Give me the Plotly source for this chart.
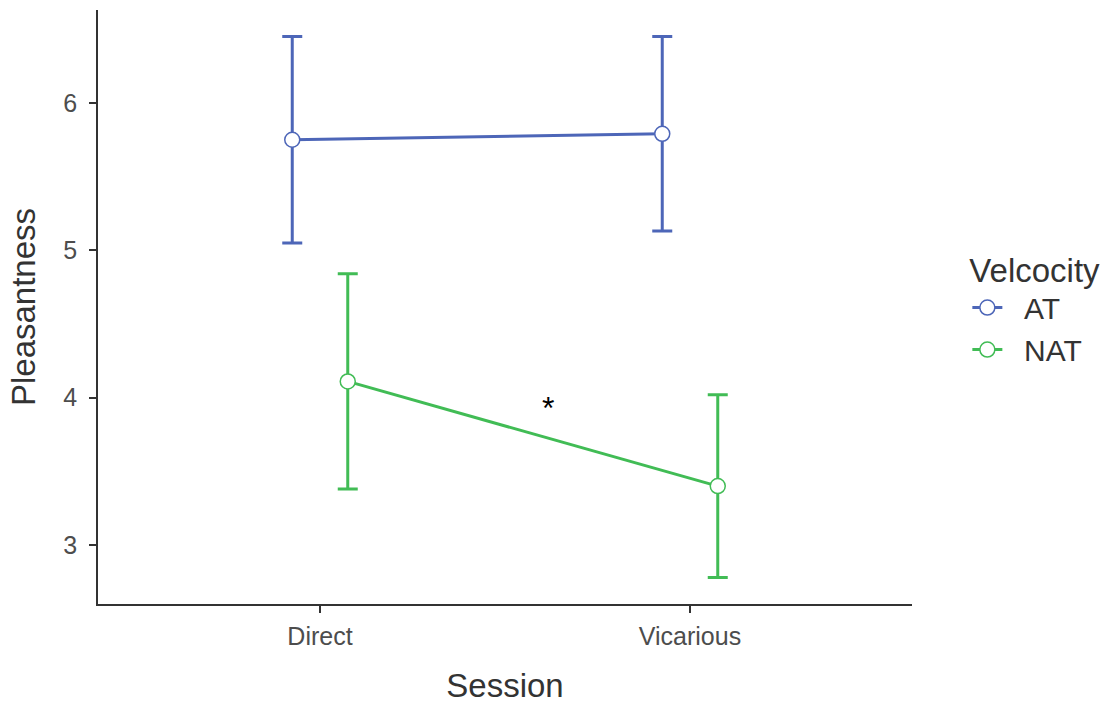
import plotly.graph_objects as go

# Session means and error half-widths per velocity group
sessions = ["Direct", "Vicarious"]
groups = ["AT", "NAT"]
means_at = [5.75, 5.79]
err_at = [0.70, 0.66]
means_nat = [4.11, 3.40]
err_nat = [0.73, 0.62]
colors = {"AT": "#4D66B8", "NAT": "#41BC55"}
dodge = {"AT": -0.075, "NAT": 0.075}

series = {"AT": (means_at, err_at), "NAT": (means_nat, err_nat)}

fig = go.Figure()
for g in groups:
    m, e = series[g]
    xs = [i + dodge[g] for i in range(len(sessions))]
    fig.add_trace(go.Scatter(
        x=xs, y=m, name="\u00a0\u00a0" + g, mode="lines+markers",
        line=dict(color=colors[g], width=3),
        marker=dict(size=15, color="white", line=dict(color=colors[g], width=1.5)),
        error_y=dict(type="data", array=e, visible=True, color=colors[g],
                     thickness=3, width=10),
    ))

# significance marker between the NAT sessions
fig.add_annotation(x=0.616, y=3.97, text="*", showarrow=False, yshift=-6,
                   font=dict(size=32, color="black"))

tick_font = dict(family="Liberation Sans", size=25, color="#4D4D4D")
title_font = dict(family="Liberation Sans", size=33, color="#333333")
fig.update_layout(
    width=1103, height=704,
    margin=dict(l=98, r=191, t=10, b=100, autoexpand=False),
    plot_bgcolor="white", paper_bgcolor="white",
    font=dict(family="Liberation Sans", color="#333333"),
    xaxis=dict(
        range=[-0.6, 1.6], tickmode="array", tickvals=list(range(len(sessions))),
        ticktext=sessions, showgrid=False, zeroline=False,
        showline=True, linecolor="#333333", linewidth=1.5,
        ticks="outside", ticklen=7, tickwidth=1.5, tickcolor="#333333",
        tickfont=tick_font, ticklabelstandoff=2,
        title=dict(text="Session", font=title_font, standoff=27),
    ),
    yaxis=dict(
        range=[2.6, 6.63], tickvals=[3, 4, 5, 6], showgrid=False, zeroline=False,
        showline=True, linecolor="#333333", linewidth=1.5,
        ticks="outside", ticklen=7, tickwidth=1.5, tickcolor="#333333",
        tickfont=tick_font, ticklabelstandoff=7,
        title=dict(text="Pleasantness", font=title_font, standoff=18),
    ),
    legend=dict(
        title=dict(text="Velcocity", font=title_font),
        font=dict(family="Liberation Sans", size=30, color="#333333"),
        x=1.068, xanchor="left", y=0.615, yanchor="top",
        bgcolor="rgba(0,0,0,0)", itemwidth=30, tracegroupgap=0,
    ),
)

fig.write_html("out.html")
